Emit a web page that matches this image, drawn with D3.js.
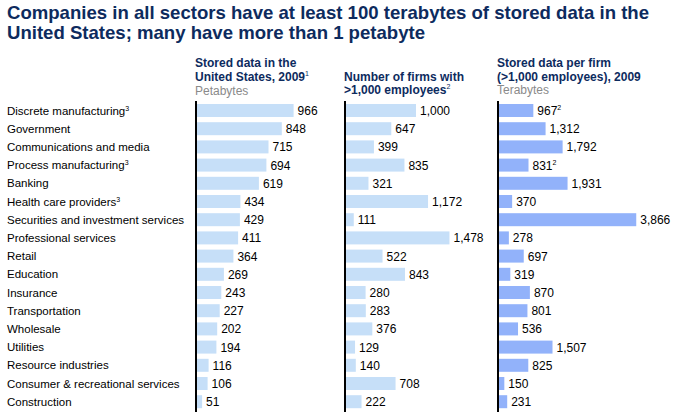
<!DOCTYPE html>
<html><head><meta charset="utf-8">
<script src="https://cdn.jsdelivr.net/npm/d3@7"></script>
<style>body{margin:0;background:#fff}svg{display:block}</style>
</head><body>
<svg id="c" width="684" height="416"></svg>
<script>
const categories = ["Discrete manufacturing","Government","Communications and media","Process manufacturing","Banking","Health care providers","Securities and investment services","Professional services","Retail","Education","Insurance","Transportation","Wholesale","Utilities","Resource industries","Consumer & recreational services","Construction"];
const categoryNotes = ["3","","","3","","3","","","","","","","","","","",""];
const storedPB = [966,848,715,694,619,434,429,411,364,269,243,227,202,194,116,106,51];
const firms = [1000,647,399,835,321,1172,111,1478,522,843,280,283,376,129,140,708,222];
const perFirmTB = [967,1312,1792,831,1931,370,3866,278,697,319,870,801,536,1507,825,150,231];
const perFirmNotes = ["2","","","2","","","","","","","","","","","","",""];
const titleLines = ["Companies in all sectors have at least 100 terabytes of stored data in the","United States; many have more than 1 petabyte"];

const svg = d3.select("#c");
const FONT = "Liberation Sans, Arial, Helvetica, sans-serif";
const NAVY = "#0d2b5e";
const fmt = d3.format(",");

// Title
const titleW = [642, 418];
titleLines.forEach((t,i)=>{
  svg.append("text").attr("x",7).attr("y",19+i*20).attr("font-family",FONT).attr("font-weight","bold")
    .attr("font-size",19).attr("fill",NAVY).attr("textLength",titleW[i]).attr("lengthAdjust","spacingAndGlyphs").text(t);
});

const y = d3.scaleBand().domain(categories).range([101.4,410.8]).paddingInner(0.286).paddingOuter(0.143);

// category labels
const lab = svg.append("g").selectAll("text").data(categories).join("text")
  .attr("x",7).attr("y",d=>y(d)+y.bandwidth()/2+4)
  .attr("font-family",FONT).attr("font-size",11.5).attr("fill","#000");
lab.append("tspan").text(d=>d);
lab.append("tspan").attr("font-size",7).attr("dy",-4).text((d,i)=>categoryNotes[i]);

const cols = [
  {x0:197, axisX:196, k:0.1, vals:storedPB, notes:null, color:"#c6dff8",
   head:[{t:"Stored data in the",b:true},{t:"United States, 2009",b:true,sup:"1"},{t:"Petabytes",b:false}], hy:[67,81,95]},
  {x0:346, axisX:345, k:0.07, vals:firms, notes:null, color:"#c6dff8",
   head:[{t:"Number of firms with",b:true},{t:">1,000 employees",b:true,sup:"2"}], hy:[81,94]},
  {x0:499, axisX:498, k:0.0355, vals:perFirmTB, notes:perFirmNotes, color:"#92b2fa",
   head:[{t:"Stored data per firm",b:true},{t:"(>1,000 employees), 2009",b:true},{t:"Terabytes",b:false}], hy:[67,81,94]}
];

cols.forEach(c=>{
  const maxV = d3.max(c.vals);
  const x = d3.scaleLinear().domain([0,maxV]).range([c.x0, c.x0 + maxV*c.k]);
  const g = svg.append("g");
  c.head.forEach((h,i)=>{
    const tx = g.append("text").attr("x",c.axisX-1).attr("y",c.hy[i])
      .attr("font-family",FONT).attr("font-size",12)
      .attr("font-weight",h.b?"bold":"normal").attr("fill",h.b?NAVY:"#8a8a8a");
    tx.append("tspan").text(h.t);
    if(h.sup) tx.append("tspan").attr("font-size",7).attr("font-weight","normal").attr("dy",-5).text(h.sup);
  });
  g.selectAll("rect").data(c.vals).join("rect")
    .attr("x",x(0)).attr("y",(d,i)=>y(categories[i]))
    .attr("width",d=>x(d)-x(0)).attr("height",y.bandwidth())
    .attr("fill",c.color);
  const vt = g.selectAll("text.v").data(c.vals).join("text").attr("class","v")
    .attr("x",d=>x(d)+4).attr("y",(d,i)=>y(categories[i])+y.bandwidth()/2+4.5)
    .attr("font-family",FONT).attr("font-size",12).attr("fill","#000");
  vt.append("tspan").text(d=>fmt(d));
  if(c.notes) vt.append("tspan").attr("font-size",7).attr("dy",-5).text((d,i)=>c.notes[i]);
  g.append("line").attr("x1",c.axisX).attr("x2",c.axisX).attr("y1",101).attr("y2",412)
    .attr("stroke","#000").attr("stroke-width",2);
});
</script>
</body></html>
